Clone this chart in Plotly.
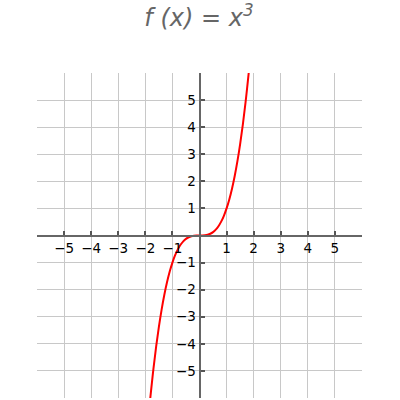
import plotly.graph_objects as go

# curve samples of f(x) = x^3
x_vals = [-1.82, -1.7, -1.6, -1.5, -1.4, -1.3, -1.2, -1.1, -1.0, -0.9, -0.8, -0.7, -0.6, -0.5, -0.4, -0.3, -0.2, -0.1, 0.0,
          0.1, 0.2, 0.3, 0.4, 0.5, 0.6, 0.7, 0.8, 0.9, 1.0, 1.1, 1.2, 1.3, 1.4, 1.5, 1.6, 1.7, 1.82]
y_vals = [-6.03, -4.913, -4.096, -3.375, -2.744, -2.197, -1.728, -1.331, -1.0, -0.729, -0.512, -0.343, -0.216, -0.125, -0.064, -0.027, -0.008, -0.001, 0.0,
          0.001, 0.008, 0.027, 0.064, 0.125, 0.216, 0.343, 0.512, 0.729, 1.0, 1.331, 1.728, 2.197, 2.744, 3.375, 4.096, 4.913, 6.03]
tick_vals = [-5, -4, -3, -2, -1, 1, 2, 3, 4, 5]
title_text = "<i>f (x) = x<sup>3</sup></i>"

fig = go.Figure()
fig.add_trace(go.Scatter(x=x_vals, y=y_vals, mode="lines", line=dict(color="red", width=2, shape="spline"),
                         hoverinfo="skip"))

axis_common = dict(range=[-6, 6], tickvals=tick_vals, ticks="inside", ticklen=4, tickwidth=1.5,
                   tickcolor="#555", showline=True, linecolor="#666", linewidth=2,
                   showgrid=True, gridcolor="#c8c8c8", gridwidth=1, zeroline=False,
                   anchor="free", position=0.5, fixedrange=True, automargin=False,
                   tickfont=dict(family="DejaVu Sans", size=13.5, color="black"))

fig.update_layout(
    width=400, height=400,
    margin=dict(l=37, r=38, t=73, b=2),
    paper_bgcolor="white", plot_bgcolor="white",
    showlegend=False,
    title=dict(text=title_text, x=0.4975, xanchor="center", y=0.955, yanchor="middle",
               font=dict(family="DejaVu Sans", size=24, color="#666")),
    xaxis=dict(**axis_common),
    yaxis=dict(**axis_common),
)
fig.write_html("out.html", config={"displayModeBar": False},
               post_script="document.body.style.margin='0';document.body.style.overflow='hidden';")
